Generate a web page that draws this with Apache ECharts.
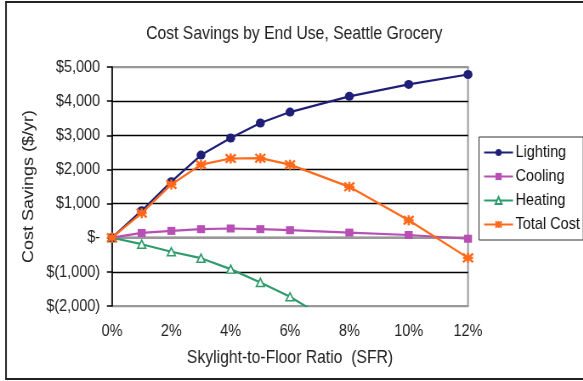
<!DOCTYPE html>
<html>
<head>
<meta charset="utf-8">
<script src="https://cdn.jsdelivr.net/npm/echarts@6/dist/echarts.min.js"></script>
<style>
  html, body { margin: 0; padding: 0; background: #fff; overflow: hidden; }
  body { width: 583px; height: 381px; }
  /* chart is laid out wider and compressed horizontally for condensed lettering */
  #chart { width: 686px; height: 381px; transform: scaleX(0.85); transform-origin: 0 0; }
</style>
</head>
<body>
<div id="chart"></div>
<script>
// Skylight-to-floor ratio (%) for each simulated case
const sfr = [0, 1, 2, 3, 4, 5, 6, 8, 10, 12];

// Annual cost savings by end use ($/yr)
const lighting  = [0, 790, 1640, 2420, 2920, 3360, 3680, 4140, 4490, 4780];
const cooling   = [0, 140, 200, 250, 270, 250, 220, 150, 80, -30];
const heating   = [0, -190, -410, -600, -920, -1310, -1730, -2780, -4050, -5330];
const totalCost = [0, 720, 1560, 2140, 2320, 2330, 2140, 1490, 510, -590];

// Axis ticks
const xTicks = [0, 2, 4, 6, 8, 10, 12];
const yTicks = [-2000, -1000, 0, 1000, 2000, 3000, 4000, 5000];
const yTickLabels = ['$(2,000)', '$(1,000)', '$-', '$1,000', '$2,000', '$3,000', '$4,000', '$5,000'];

const FONT = '"Liberation Sans", Arial, sans-serif';
const SX = 0.85; // horizontal compression applied by CSS
const pair = arr => sfr.map((x, i) => [x, arr[i]]);

const chart = echarts.init(document.getElementById('chart'), null, { renderer: 'canvas' });

// asterisk-style marker for the total line
const starPath = 'path://M0,0L10,10M10,0L0,10M5,-1L5,11M0,5L10,5';

chart.setOption({
  animation: false,
  backgroundColor: '#fff',
  title: {
    text: 'Cost Savings by End Use, Seattle Grocery',
    left: 290 / SX, top: 19, textAlign: 'center',
    textStyle: { fontFamily: FONT, fontSize: 18.5, fontWeight: 'normal', color: '#222' }
  },
  graphic: [{
    type: 'rect',
    shape: { x: 6 / SX, y: 2, width: 720, height: 377 },
    style: { fill: 'none', stroke: '#222', lineWidth: 2 },
    z: 100
  }],
  grid: {
    left: 112 / SX, right: 686 - 468 / SX, top: 67, bottom: 75,
    show: true, borderColor: '#999', borderWidth: 2, backgroundColor: 'transparent'
  },
  legend: {
    orient: 'vertical',
    left: 479 / SX, top: 137,
    padding: [7, 4, 7, 5],
    itemGap: 7,
    itemWidth: 34, itemHeight: 9,
    borderColor: '#333', borderWidth: 1,
    backgroundColor: '#fff',
    textStyle: { fontFamily: FONT, fontSize: 17, color: '#111', padding: [0, 0, 0, -2] },
    data: ['Lighting', 'Cooling', 'Heating', 'Total Cost']
  },
  xAxis: {
    type: 'value',
    min: 0, max: 12, interval: 2,
    name: 'Skylight-to-Floor Ratio  (SFR)',
    nameLocation: 'middle', nameGap: 42,
    nameTextStyle: { fontFamily: FONT, fontSize: 18.5, color: '#222' },
    axisLine: { show: true, lineStyle: { color: '#999', width: 2 } },
    axisTick: { show: false },
    splitLine: { show: false },
    axisLabel: {
      fontFamily: FONT, fontSize: 17, color: '#222', margin: 17,
      formatter: v => xTicks.includes(v) ? v + '%' : ''
    }
  },
  yAxis: {
    type: 'value',
    min: yTicks[0], max: yTicks[yTicks.length - 1], interval: 1000,
    name: 'Cost Savings ($/yr)',
    nameLocation: 'middle', nameGap: 89,
    nameTextStyle: { fontFamily: FONT, fontSize: 18, color: '#222' },
    axisLine: { show: true, lineStyle: { color: '#000', width: 1.6 } },
    axisTick: { show: true, inside: false, length: 6, lineStyle: { color: '#000', width: 1.5 } },
    splitLine: {
      show: true,
      lineStyle: { color: ['#999', '#000', '#000', '#000', '#000', '#000', '#000', '#999'], width: 1.3 }
    },
    axisLabel: {
      fontFamily: FONT, fontSize: 17, color: '#222', margin: 14,
      formatter: v => { const i = yTicks.indexOf(v); return i >= 0 ? yTickLabels[i] : ''; }
    }
  },
  series: [
    {
      name: 'Lighting', type: 'line', data: pair(lighting),
      symbol: 'circle', symbolSize: [9 / SX, 9],
      lineStyle: { color: '#1f1f78', width: 2.2 },
      itemStyle: { color: '#1f1f78' }, z: 4
    },
    {
      name: 'Cooling', type: 'line', data: pair(cooling),
      symbol: 'rect', symbolSize: [8 / SX, 8],
      lineStyle: { color: '#b84fb4', width: 2.2 },
      itemStyle: { color: '#b84fb4' }, z: 3
    },
    {
      name: 'Heating', type: 'line', data: pair(heating),
      symbol: 'triangle', symbolSize: [8 / SX, 8],
      lineStyle: { color: '#2e9b6c', width: 2.2 },
      itemStyle: { color: '#ffffff', borderColor: '#2e9b6c', borderWidth: 1.6 }, z: 2
    },
    {
      name: 'Total Cost', type: 'line', data: pair(totalCost),
      symbol: starPath, symbolSize: [10 / SX, 10],
      lineStyle: { color: '#ff6a1a', width: 2.2 },
      itemStyle: { color: '#ff6a1a', borderColor: '#ff6a1a', borderWidth: 2.4 }, z: 5
    }
  ]
});
</script>
</body>
</html>
